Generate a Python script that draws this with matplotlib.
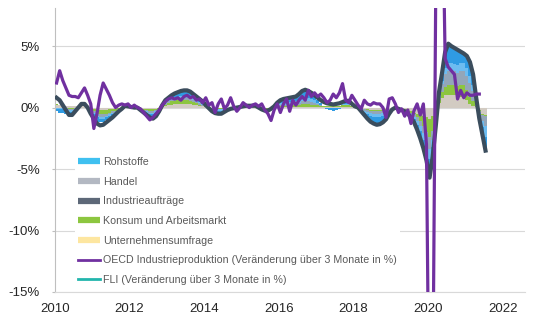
import numpy as np
import matplotlib
matplotlib.use("Agg")
import matplotlib.pyplot as plt
from matplotlib.lines import Line2D

plt.rcParams['font.family'] = ['Liberation Sans', 'DejaVu Sans']

# Monthly series, January 2010 onwards (percent)
start_year = 2010

fli = [
    0.8, 0.6, 0.2, -0.2, -0.6, -0.6, -0.3, 0.0, 0.3, 0.3, 0.0, -0.5,
    -0.9, -1.3, -1.45, -1.4, -1.2, -1.0, -0.8, -0.55, -0.3, -0.1, 0.15, 0.1,
    0.05, 0.0, 0.0, -0.2, -0.4, -0.6, -0.8, -0.9, -0.7, -0.3, 0.2, 0.6,
    0.8, 1.0, 1.15, 1.25, 1.35, 1.4, 1.4, 1.3, 1.1, 0.9, 0.7, 0.5,
    0.2, -0.05, -0.3, -0.45, -0.5, -0.5, -0.35, -0.2, -0.1, -0.05, 0.0, 0.05,
    0.1, 0.15, 0.15, 0.15, 0.15, 0.0, -0.15, -0.25, -0.25, -0.1, 0.1, 0.4,
    0.6, 0.7, 0.75, 0.8, 0.85, 0.9, 1.1, 1.35, 1.45, 1.35, 1.2, 1.0,
    0.8, 0.6, 0.45, 0.35, 0.3, 0.25, 0.3, 0.35, 0.45, 0.55, 0.55, 0.3,
    0.1, 0.0, -0.3, -0.6, -0.9, -1.15, -1.3, -1.4, -1.35, -1.2, -0.95, -0.5,
    -0.15, 0.0, -0.1, -0.2, -0.3, -0.5, -0.8, -1.2, -1.8, -2.5, -3.3, -4.3,
    -5.7, -4.0, -1.5, 1.2, 2.8, 4.5, 5.2, 5.0, 4.85, 4.7, 4.55, 4.4,
    4.2, 3.7, 2.7, 0.8, -0.9, -2.2, -3.5,
]

oecd = [
    2.0, 3.0, 2.2, 1.6, 1.0, 0.9, 0.9, 0.8, 1.2, 1.6, 1.0, 0.3,
    -1.7, -0.5, 1.0, 2.0, 1.5, 1.0, 0.4, 0.0, 0.2, 0.3, 0.2, 0.3,
    0.0, 0.2, 0.0, -0.1, -0.4, -0.7, -1.0, -0.8, -0.5, -0.2, 0.2, 0.5,
    0.7, 0.8, 0.7, 0.8, 0.6, 0.9, 1.0, 0.8, 0.9, 0.6, 0.7, 0.4,
    0.8, 0.2, 0.4, -0.4, 0.3, 0.7, -0.1, 0.2, 0.8, 0.1, -0.3, 0.0,
    0.4, 0.2, 0.0, 0.2, 0.3, 0.1, 0.3, -0.2, -0.5, -1.05, -0.2, 0.3,
    -0.4, 0.3, 0.7, -0.3, 0.6, 0.2, 0.6, 0.9, 0.6, 1.4, 0.9, 1.2,
    0.9, 1.1, 0.8, 0.4, 0.6, 1.1, 0.8, 1.2, 1.95, 0.6, 0.4, 1.0,
    0.6, 0.2, -0.1, 0.6, 0.3, 0.2, 0.4, 0.3, 0.3, 0.0, -0.8, 0.7,
    0.8, 0.3, -0.4, -0.1, -0.7, -0.2, -1.3, -0.25, 0.3, -0.6, 0.3, -3.0,
    -30.0, -25.0, 10.0, 25.0, 20.0, 4.0, 3.3, 3.0, 2.7, 0.7, 1.4, 0.8,
    1.2, 1.0, 1.0, 1.1, 1.1,
]

unternehmensumfrage = [
    0.2, 0.2, 0.2, 0.15, 0.1, 0.1, 0.1, 0.1, 0.1, 0.1, 0.05, 0.0,
    -0.1, -0.2, -0.2, -0.2, -0.2, -0.15, -0.1, -0.1, -0.05, 0.0, 0.05, 0.05,
    0.05, 0.05, 0.0, -0.05, -0.1, -0.1, -0.15, -0.15, -0.1, -0.05, 0.05, 0.1,
    0.2, 0.25, 0.3, 0.3, 0.3, 0.3, 0.3, 0.3, 0.25, 0.2, 0.15, 0.1,
    0.05, 0.0, -0.05, -0.05, -0.05, -0.05, -0.05, 0.0, 0.0, 0.0, 0.0, 0.0,
    0.05, 0.05, 0.05, 0.05, 0.05, 0.0, 0.0, -0.05, -0.05, 0.0, 0.05, 0.1,
    0.05, 0.05, 0.05, 0.05, 0.05, 0.05, 0.05, 0.05, 0.05, 0.05, 0.05, 0.05,
    0.05, 0.05, 0.05, 0.05, 0.05, 0.05, 0.05, 0.05, 0.05, 0.05, 0.05, 0.05,
    0.0, 0.0, -0.05, -0.1, -0.15, -0.2, -0.2, -0.2, -0.2, -0.2, -0.15, -0.1,
    -0.05, 0.0, -0.05, -0.05, -0.1, -0.15, -0.3, -0.4, -0.5, -0.6, -0.7, -0.8,
    -0.9, -0.7, -0.3, 0.4, 0.8, 1.0, 1.0, 1.0, 1.0, 0.95, 0.85, 0.8,
    0.6, 0.3, 0.15, 0.05, -0.2, -0.5, -0.6,
]

konsum = [
    0.1, 0.05, 0.0, -0.05, -0.1, -0.1, -0.05, 0.0, 0.05, 0.05, 0.0, -0.1,
    -0.2, -0.3, -0.35, -0.35, -0.3, -0.25, -0.2, -0.15, -0.1, -0.05, 0.0, 0.0,
    0.0, 0.0, 0.0, -0.05, -0.1, -0.1, -0.15, -0.15, -0.1, -0.05, 0.05, 0.15,
    0.2, 0.25, 0.25, 0.3, 0.3, 0.3, 0.3, 0.25, 0.2, 0.15, 0.1, 0.05,
    0.05, 0.0, 0.0, -0.05, -0.05, -0.05, 0.0, 0.0, 0.0, 0.0, 0.0, 0.05,
    0.0, 0.05, 0.05, 0.05, 0.05, 0.0, -0.05, -0.05, -0.05, 0.0, 0.0, 0.05,
    0.1, 0.1, 0.1, 0.15, 0.15, 0.15, 0.2, 0.25, 0.25, 0.25, 0.2, 0.2,
    0.15, 0.1, 0.1, 0.1, 0.1, 0.1, 0.1, 0.1, 0.15, 0.15, 0.15, 0.1,
    0.05, 0.0, 0.0, -0.05, -0.05, -0.1, -0.1, -0.1, -0.1, -0.1, -0.05, 0.0,
    0.0, 0.0, 0.0, -0.05, -0.05, -0.05, -0.1, -0.15, -0.3, -0.5, -0.8, -1.2,
    -1.5, -1.2, -0.5, 0.3, 0.5, 0.7, 0.8, 0.8, 0.8, 0.8, 0.95, 1.0,
    0.8, 0.6, 0.4, 0.1, -0.05, -0.1, -0.1,
]

handel = [
    0.0, 0.0, -0.05, -0.1, -0.1, -0.1, -0.05, 0.0, 0.05, 0.05, 0.0, -0.1,
    -0.1, -0.15, -0.2, -0.2, -0.15, -0.15, -0.1, -0.1, -0.05, 0.0, 0.0, 0.0,
    0.0, 0.0, 0.0, -0.05, -0.05, -0.1, -0.1, -0.1, -0.1, -0.05, 0.05, 0.1,
    0.1, 0.15, 0.15, 0.15, 0.2, 0.2, 0.2, 0.2, 0.15, 0.1, 0.1, 0.05,
    0.0, 0.0, -0.05, -0.05, -0.05, -0.05, -0.05, 0.0, 0.0, 0.0, 0.0, 0.0,
    0.0, 0.0, 0.0, 0.0, 0.0, 0.0, -0.05, -0.05, -0.05, -0.05, 0.0, 0.05,
    0.1, 0.1, 0.1, 0.1, 0.1, 0.1, 0.15, 0.2, 0.2, 0.2, 0.2, 0.15,
    0.1, 0.05, 0.0, 0.0, 0.0, 0.0, 0.0, 0.0, 0.05, 0.05, 0.05, 0.0,
    0.0, 0.0, -0.05, -0.1, -0.15, -0.15, -0.2, -0.2, -0.2, -0.15, -0.15, -0.1,
    -0.05, 0.0, -0.05, -0.05, -0.05, -0.1, -0.1, -0.2, -0.3, -0.4, -0.6, -0.8,
    -1.0, -0.7, -0.3, 0.2, 0.6, 1.0, 1.2, 1.2, 1.15, 1.1, 1.2, 1.2,
    1.2, 1.1, 0.8, 0.2, -0.2, -0.5, -0.8,
]

industrieauftraege = [
    -0.1, -0.1, -0.1, -0.1, -0.15, -0.15, -0.1, 0.0, 0.05, 0.05, 0.0, -0.1,
    -0.1, -0.15, -0.15, -0.15, -0.15, -0.1, -0.1, -0.05, -0.05, 0.0, 0.05, 0.05,
    0.0, 0.0, 0.0, -0.05, -0.1, -0.1, -0.15, -0.15, -0.15, -0.05, 0.0, 0.1,
    0.1, 0.1, 0.15, 0.15, 0.15, 0.2, 0.2, 0.15, 0.15, 0.15, 0.1, 0.1,
    0.05, 0.0, -0.05, -0.1, -0.1, -0.1, -0.05, -0.05, 0.0, 0.0, 0.0, 0.0,
    0.0, 0.0, 0.0, 0.0, 0.0, 0.0, 0.0, -0.05, -0.05, 0.0, 0.0, 0.05,
    0.1, 0.1, 0.15, 0.15, 0.15, 0.2, 0.2, 0.25, 0.3, 0.25, 0.25, 0.2,
    0.1, 0.05, 0.0, -0.05, -0.05, -0.05, -0.05, 0.0, 0.05, 0.05, 0.05, 0.0,
    0.0, 0.0, -0.05, -0.15, -0.2, -0.25, -0.3, -0.3, -0.3, -0.25, -0.2, -0.1,
    0.0, 0.0, 0.0, -0.05, -0.05, -0.1, -0.15, -0.2, -0.3, -0.4, -0.5, -0.6,
    -0.8, -0.6, -0.2, 0.1, 0.3, 0.5, 0.6, 0.6, 0.6, 0.6, 0.6, 0.6,
    0.6, 0.6, 0.5, 0.2, -0.2, -0.5, -0.9,
]

rohstoffe = [
    -0.2, -0.3, -0.3, -0.25, -0.2, -0.2, -0.1, 0.0, 0.1, 0.1, 0.0, -0.2,
    -0.2, -0.3, -0.3, -0.3, -0.25, -0.2, -0.2, -0.1, -0.05, 0.0, 0.05, 0.0,
    0.0, -0.05, 0.0, 0.0, -0.05, -0.1, -0.15, -0.2, -0.15, -0.1, 0.05, 0.1,
    0.2, 0.25, 0.3, 0.35, 0.4, 0.4, 0.4, 0.4, 0.35, 0.3, 0.25, 0.2,
    0.05, 0.0, -0.1, -0.15, -0.2, -0.2, -0.15, -0.1, -0.05, -0.05, 0.0, 0.0,
    0.05, 0.05, 0.05, 0.05, 0.05, 0.0, -0.05, -0.05, -0.05, -0.05, 0.05, 0.1,
    0.2, 0.25, 0.3, 0.3, 0.35, 0.35, 0.4, 0.5, 0.55, 0.5, 0.45, 0.35,
    0.2, 0.1, 0.0, -0.1, -0.15, -0.2, -0.15, -0.1, 0.0, 0.1, 0.1, 0.0,
    0.0, 0.0, -0.15, -0.2, -0.3, -0.4, -0.45, -0.5, -0.5, -0.45, -0.4, -0.2,
    -0.05, 0.0, 0.0, 0.0, -0.05, -0.1, -0.15, -0.25, -0.4, -0.6, -0.7, -0.9,
    -1.3, -0.8, -0.2, 0.2, 0.6, 1.3, 1.6, 1.4, 1.3, 1.25, 0.95, 0.8,
    1.0, 1.1, 0.85, 0.25, -0.25, -0.6, -1.1,
]

component_labels = ["Rohstoffe", "Handel", "Industrieaufträge",
                    "Konsum und Arbeitsmarkt", "Unternehmensumfrage"]
line_labels = ["OECD Industrieproduktion (Veränderung über 3 Monate in %)",
               "FLI (Veränderung über 3 Monate in %)"]
year_ticks = [2010, 2012, 2014, 2016, 2018, 2020, 2022]
pct_ticks = [-15, -10, -5, 0, 5]

# colours of the stacked layers (bottom to top) and of the legend keys
stack_order = [unternehmensumfrage, konsum, handel, industrieauftraege, rohstoffe]
stack_colors = ["#d2cbc2", "#8cc540", "#93a6b9", "#6dbcf0", "#2f9be3"]
legend_colors = ["#3fc0f0", "#b3b8c2", "#5d6878", "#8cc63f", "#fde6a0"]
oecd_color = "#7030a0"
fli_color = "#3b4d5d"
fli_key_color = "#22b5ad"
grid_color = "#d9d9d9"

fig = plt.figure(figsize=(5.36, 3.27), dpi=100)
ax = fig.add_axes([55 / 536, 1 - 292 / 327, 470 / 536, 284 / 327])

n = len(fli)
t = start_year + (np.arange(n) + 0.5) / 12.0

pos_base = np.zeros(n)
neg_base = np.zeros(n)
for vals, col in zip(stack_order, stack_colors):
    v = np.asarray(vals, dtype=float)
    bottom = np.where(v >= 0, pos_base, neg_base)
    ax.bar(t, v, width=1.06 / 12, bottom=bottom, color=col, linewidth=0,
           align="center", zorder=2)
    pos_base += np.clip(v, 0, None)
    neg_base += np.clip(v, None, 0)

ax.plot(t, fli, color=fli_color, lw=3.0, zorder=3, solid_joinstyle="round")
t_oecd = start_year + (np.arange(len(oecd)) + 0.5) / 12.0
ax.plot(t_oecd, oecd, color=oecd_color, lw=2.3, zorder=4, solid_joinstyle="round")

ax.set_xlim(2010, 2022.6)
ax.set_ylim(-15, 8.1)

ax.set_yticks(pct_ticks)
ax.set_yticklabels([f"{v}%" for v in pct_ticks])
ax.set_xticks(year_ticks)
ax.set_xticklabels([str(y) for y in year_ticks])

ax.set_axisbelow(True)
ax.yaxis.grid(True, color=grid_color, lw=0.8)
for side in ("top", "right"):
    ax.spines[side].set_visible(False)
ax.spines["left"].set_color("#bfbfbf")
ax.spines["bottom"].set_color(grid_color)
ax.tick_params(axis="y", length=2, color="#bfbfbf", pad=9, labelsize=9.5,
               labelcolor="#262626")
ax.tick_params(axis="x", length=0, pad=8, labelsize=9.5, labelcolor="#262626")

handles = [Line2D([0], [0], color=c, lw=4.5, solid_capstyle="butt")
           for c in legend_colors]
handles += [Line2D([0], [0], color=oecd_color, lw=2),
            Line2D([0], [0], color=fli_key_color, lw=2)]
leg = ax.legend(handles, component_labels + line_labels,
                loc="upper left", bbox_to_anchor=(75 / 536, 1 - 154 / 327),
                bbox_transform=fig.transFigure, borderaxespad=0,
                frameon=True, facecolor="white", edgecolor="none", framealpha=1,
                fancybox=False, fontsize=7.7, handlelength=2.0,
                handletextpad=0.35, labelspacing=0.9, borderpad=0.3)
for txt in leg.get_texts():
    txt.set_color("#595959")
leg.set_zorder(5)

fig.savefig("out.png", dpi=100)
